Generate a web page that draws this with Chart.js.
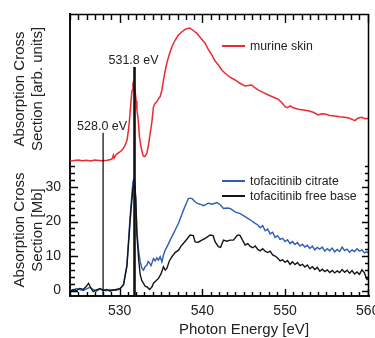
<!DOCTYPE html>
<html><head><meta charset="utf-8">
<script src="https://cdn.jsdelivr.net/npm/chart.js@4/dist/chart.umd.min.js"></script>
<style>html,body{margin:0;padding:0;background:#fff;}canvas{display:block;}</style>
</head><body>
<canvas id="c" width="375" height="338"></canvas>
<script>
// ---- data (photon energy in eV) ----
const skinEnergy = [
 524.0,524.5,525.0,525.5,526.0,526.5,527.0,527.5,528.0,528.5,
 528.9,529.1,529.25,529.35,529.6,530.07,530.4,530.68,530.9,531.07,
 531.2,531.36,531.5,531.61,531.7,531.85,532.0,532.09,532.25,532.4,
 532.6,532.81,532.95,533.1,533.3,533.5,533.7,533.9,534.09,534.3,
 534.5,534.7,534.9,535.1,535.3,535.5,535.71,536.0,536.32,536.7,
 537.11,537.5,537.92,538.3,538.53,538.9,539.34,539.8,540.34,540.7,
 541.15,541.5,541.94,542.3,542.75,543.3,543.96,544.5,545.17,545.5,
 545.98,546.3,546.78,547.4,547.98,548.6,549.19,549.6,550.0,550.3,
 550.6,551.0,551.61,552.2,552.81,553.4,554.02,554.4,554.83,555.4,
 556.04,556.6,557.25,557.8,558.45,558.8,559.26,559.7,560.14];
const skinSignal = [
 2.0,2.3,2.6,2.2,2.5,2.0,2.6,2.4,2.2,2.5,
 3.0,3.5,6.0,4.0,6.5,8.2,10.0,12.7,16.0,22.7,
 30.0,40.7,49.0,53.8,54.9,50.0,42.0,36.0,29.3,18.0,
 11.0,6.0,4.9,5.2,7.3,13.0,20.7,28.0,38.0,40.5,
 41.5,43.5,44.9,49.0,56.0,62.0,67.3,73.0,78.2,82.5,
 86.0,88.0,89.8,90.5,90.5,89.0,87.1,84.0,80.5,76.5,
 72.7,69.0,66.0,63.0,60.5,58.0,56.0,54.0,52.0,52.3,
 52.7,51.0,49.3,47.6,46.0,44.5,43.1,41.0,38.2,37.5,
 38.7,37.5,36.5,36.0,35.5,34.5,32.7,33.5,33.3,32.3,
 32.0,31.5,31.1,30.5,28.9,30.5,31.1,30.2,30.5];

const citrateEnergy = [
 524.0,524.4,524.8,525.2,525.6,526.0,526.4,526.8,527.2,527.6,
 528.0,528.4,528.8,529.2,529.6,530.07,530.47,530.88,531.28,531.6,
 531.76,531.95,532.09,532.3,532.49,532.7,532.89,533.1,533.3,533.45,
 533.6,533.8,534.09,534.3,534.5,534.7,534.9,535.11,535.3,535.51,
 535.8,536.11,536.5,537.12,537.72,538.1,538.32,538.73,539.13,539.34,
 539.94,540.13,540.74,541.2,541.75,542.2,542.55,542.96,543.36,543.96,
 544.57,545.17,545.5,545.9,546.3,546.7,547.0,547.3,547.6,547.9,
 548.2,548.5,548.8,549.1,549.4,549.7,550.0,550.3,550.6,550.9,
 551.2,551.5,551.8,552.1,552.4,552.7,553.0,553.3,553.6,553.9,
 554.2,554.5,554.8,555.1,555.4,555.7,556.0,556.3,556.6,556.9,
 557.2,557.5,557.8,558.1,558.4,558.7,559.0,559.3,559.6,559.9,
 560.14];
const citrateMb = [
 0.2,0.1,0.6,0.3,0.0,0.5,0.9,0.3,-0.2,0.4,
 0.1,-0.1,0.3,0.0,0.4,0.5,1.8,7.4,21.9,31.5,
 32.5,26.0,17.0,11.5,8.3,6.5,5.9,7.0,7.4,8.4,
 8.0,7.2,9.3,8.6,9.5,8.8,9.8,8.3,10.3,11.7,
 13.0,14.6,16.5,19.5,23.3,25.5,26.7,26.7,25.7,25.3,
 24.8,24.6,25.3,25.0,25.5,24.8,23.8,23.9,23.8,22.8,
 22.3,21.4,20.9,20.3,19.6,19.0,18.2,18.8,17.3,17.8,
 16.4,16.9,15.4,15.9,14.8,15.1,14.2,14.7,13.6,14.2,
 13.3,13.9,12.9,13.4,12.6,13.1,12.2,12.9,11.8,12.5,
 12.0,12.6,11.4,12.1,11.5,12.3,11.2,11.9,11.3,12.6,
 11.6,12.0,11.1,11.8,11.3,12.1,11.4,11.8,10.9,11.2,
 10.8];

const freeBaseEnergy = [
 524.0,524.4,524.8,525.2,525.6,525.9,526.24,526.5,526.81,527.2,
 527.66,528.0,528.4,528.86,529.2,529.47,529.8,530.07,530.47,530.88,
 531.28,531.6,531.8,531.95,532.09,532.3,532.49,532.7,532.89,533.1,
 533.3,533.62,533.9,534.09,534.4,534.7,535.0,535.3,535.51,535.71,
 536.0,536.32,536.7,537.12,537.4,537.72,538.1,538.53,538.9,539.13,
 539.5,539.94,540.4,540.94,541.3,541.55,541.94,542.2,542.55,542.96,
 543.36,543.76,544.2,544.36,544.57,545.17,545.5,545.8,546.1,546.4,
 546.7,547.0,547.3,547.6,547.9,548.2,548.5,548.8,549.1,549.4,
 549.7,550.0,550.3,550.6,550.9,551.2,551.5,551.8,552.1,552.4,
 552.7,553.0,553.3,553.6,553.9,554.2,554.5,554.8,555.1,555.4,
 555.7,556.0,556.3,556.6,556.9,557.2,557.5,557.8,558.1,558.4,
 558.7,559.0,559.3,559.6,559.9,560.14];
const freeBaseMb = [
 -0.3,0.3,0.0,0.6,0.3,1.0,2.1,0.8,-0.3,0.2,
 0.6,0.0,0.3,-0.2,0.2,0.1,0.3,0.6,1.6,7.0,
 20.5,29.5,31.5,27.0,16.1,9.0,4.5,2.8,2.1,1.2,
 1.1,0.3,1.0,2.1,2.8,3.5,4.8,6.9,5.9,6.4,
 8.5,9.8,11.0,11.7,12.8,13.7,14.8,16.1,15.9,14.1,
 14.0,14.6,15.2,16.1,15.9,14.1,12.7,12.5,14.6,14.3,
 14.6,14.6,15.9,16.1,15.9,13.2,13.6,12.8,12.4,12.9,
 11.9,11.5,12.1,11.4,11.0,11.4,10.3,10.0,9.4,8.6,
 8.9,8.2,8.7,7.6,8.3,7.5,8.1,7.2,7.6,6.8,
 7.4,6.3,6.9,6.1,6.7,5.6,6.2,5.5,6.0,5.2,
 5.8,5.1,5.7,5.2,6.1,5.3,5.9,5.0,5.8,4.8,
 5.4,4.7,6.0,5.1,3.2,3.6];

const markerEnergies = [528.0, 531.8];
const markerLabels = ['528.0 eV', '531.8 eV'];
const markerTopMb = [45.7, 64.8];
const markerBottomMb = [-1.59, -1.59];

const xTickValues = [530, 540, 550, 560];
const yTickValues = [0, 10, 20, 30];
const xMinorStep = 1;
const yMinorStep = 2;
const yMinorMax = 36;

const seriesNames = ['murine skin', 'tofacitinib citrate', 'tofacitinib free base'];

// ---- build ----
const pts = (xs, ys) => xs.map((x, i) => ({x: x, y: ys[i]}));
const FONT = '"Liberation Sans", Arial, Helvetica, sans-serif';
Chart.defaults.font.family = FONT;
Chart.defaults.color = '#222';

const RED = '#ec2a30', BLUE = '#2f5db3', BLACK = '#151515';

const noPad = s => { s.paddingLeft = 0; s.paddingRight = 0; s.paddingTop = 0; s.paddingBottom = 0; };

const decor = {
  id: 'decor',
  afterDatasetsDraw(chart) {
    const {ctx, chartArea: a, scales} = chart;
    const x = scales.x, yb = scales.yMb;
    ctx.save();
    ctx.strokeStyle = '#000';
    ctx.lineWidth = 1.5;
    ctx.beginPath();
    ctx.moveTo(a.left, a.top + 0.5); ctx.lineTo(a.right - 0.5, a.top + 0.5); ctx.lineTo(a.right - 0.5, a.bottom);
    ctx.stroke();
    ctx.lineWidth = 1.4;
    ctx.beginPath();
    for (let e = Math.ceil(x.min); e <= x.max; e += xMinorStep) {
      const px = Math.round(x.getPixelForValue(e)) + 0.5;
      const major = e % 10 === 0;
      ctx.moveTo(px, a.bottom); ctx.lineTo(px, a.bottom - (major ? 7 : 4));
      ctx.moveTo(px, a.top); ctx.lineTo(px, a.top + (major ? 9 : 6));
    }
    for (let v = 0; v <= yMinorMax; v += yMinorStep) {
      const py = Math.round(yb.getPixelForValue(v)) + 0.5;
      const major = v % 10 === 0;
      ctx.moveTo(a.left, py); ctx.lineTo(a.left + (major ? 8 : 5), py);
      ctx.moveTo(a.right, py); ctx.lineTo(a.right - (major ? 7 : 4), py);
    }
    ctx.stroke();

    // marker labels
    ctx.fillStyle = '#222';
    ctx.font = '12.5px ' + FONT;
    ctx.textAlign = 'center';
    ctx.textBaseline = 'alphabetic';
    markerEnergies.forEach((e, i) => {
      const px = x.getPixelForValue(e);
      const top = yb.getPixelForValue(markerTopMb[i]);
      ctx.fillText(markerLabels[i], px - 1, top - 2.5);
    });

    // legends
    ctx.font = '12.3px ' + FONT;
    ctx.textAlign = 'left';
    ctx.textBaseline = 'middle';
    const leg = [[seriesNames[0], RED, 46], [seriesNames[1], BLUE, 181], [seriesNames[2], BLACK, 196]];
    leg.forEach(([t, c, y]) => {
      ctx.strokeStyle = c; ctx.lineWidth = 2;
      ctx.beginPath(); ctx.moveTo(222, y); ctx.lineTo(245, y); ctx.stroke();
      ctx.fillStyle = '#222';
      ctx.fillText(t, 250, y + 0.5);
    });

    // x-axis title
    ctx.font = '15px ' + FONT;
    ctx.textAlign = 'center';
    ctx.textBaseline = 'alphabetic';
    ctx.fillText('Photon Energy [eV]', 244, 334);
    ctx.restore();
  }
};

const lineDs = (label, data, axis, color, width) => ({
  label, data, yAxisID: axis, borderColor: color, borderWidth: width,
  pointRadius: 0, fill: false, tension: 0
});

new Chart(document.getElementById('c'), {
  type: 'line',
  data: {
    datasets: [
      Object.assign(lineDs(markerLabels[0], [{x: markerEnergies[0], y: markerBottomMb[0]}, {x: markerEnergies[0], y: markerTopMb[0]}], 'yMb', '#000', 1.2), {clip: false}),
      Object.assign(lineDs(markerLabels[1], [{x: markerEnergies[1], y: markerBottomMb[1]}, {x: markerEnergies[1], y: markerTopMb[1]}], 'yMb', '#111', 2.6), {clip: false}),
      lineDs(seriesNames[2], pts(freeBaseEnergy, freeBaseMb), 'yMb', BLACK, 1.4),
      lineDs(seriesNames[1], pts(citrateEnergy, citrateMb), 'yMb', BLUE, 1.4),
      lineDs(seriesNames[0], pts(skinEnergy, skinSignal), 'yArb', RED, 1.5)
    ]
  },
  options: {
    responsive: false,
    devicePixelRatio: 1,
    animation: false,
    events: [],
    layout: {padding: {top: 14, right: 6, left: 0, bottom: 0}},
    plugins: {legend: {display: false}, tooltip: {enabled: false}},
    scales: {
      x: {
        type: 'linear', position: 'bottom', min: 524.0, max: 560.15,
        afterBuildTicks: s => { s.ticks = xTickValues.map(v => ({value: v})); },
        afterFit: s => { s.height = 42; noPad(s); },
        grid: {drawOnChartArea: false, drawTicks: false},
        border: {color: '#111', width: 2},
        ticks: {font: {size: 14}, color: '#222', padding: 7, maxRotation: 0, autoSkip: false}
      },
      yMb: {
        type: 'linear', position: 'left', stack: 'v', stackWeight: 132, min: -1.59, max: 36.67,
        afterBuildTicks: s => { s.ticks = yTickValues.map(v => ({value: v})); },
        afterFit: s => { s.width = 70; noPad(s); },
        grid: {drawOnChartArea: false, drawTicks: false},
        border: {color: '#111', width: 2},
        ticks: {font: {size: 14}, color: '#222', padding: 9},
        title: {display: true, text: ['Absorption Cross', 'Section [Mb]'], font: {size: 15, lineHeight: 1.2}, color: '#222', padding: {top: 11, bottom: 0}}
      },
      yArb: {
        type: 'linear', position: 'left', stack: 'v', stackWeight: 150, min: 0, max: 100,
        afterFit: s => { s.width = 70; noPad(s); },
        grid: {drawOnChartArea: false, drawTicks: false},
        border: {color: '#111', width: 2},
        ticks: {display: false},
        title: {display: true, text: ['Absorption Cross', 'Section [arb. units]'], font: {size: 15, lineHeight: 1.2}, color: '#222', padding: {top: 11, bottom: 0}}
      }
    }
  },
  plugins: [decor]
});
</script>
</body></html>
